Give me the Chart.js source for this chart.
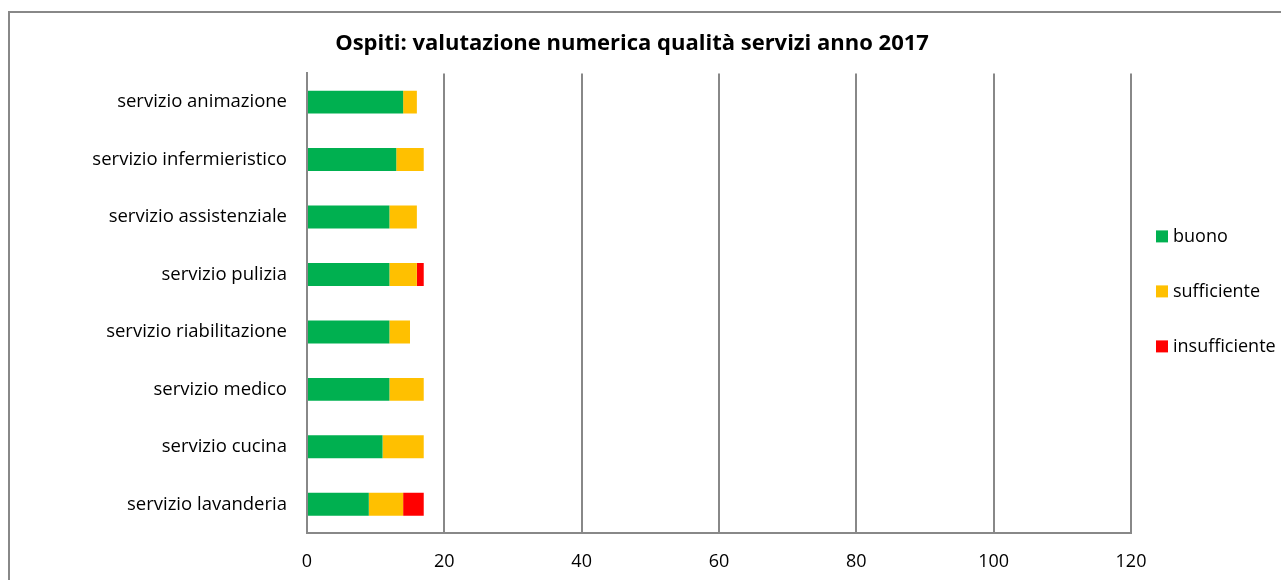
<!DOCTYPE html>
<html>
<head>
<meta charset="utf-8">
<script src="https://cdn.jsdelivr.net/npm/chart.js@4/dist/chart.umd.min.js"></script>
<style>
  html, body { margin: 0; padding: 0; background: #fff; overflow: hidden; }
  .frame { position: absolute; left: 8px; top: 11px; width: 1290px; height: 600px; border: 2px solid #888; }
  .wrap { position: absolute; left: 10px; top: 14px; width: 1271px; height: 566px; }
</style>
</head>
<body>
<div class="frame"></div>
<div class="wrap"><canvas id="myChart"></canvas></div>
<script>
const categories = [
  'servizio animazione',
  'servizio infermieristico',
  'servizio assistenziale',
  'servizio pulizia',
  'servizio riabilitazione',
  'servizio medico',
  'servizio cucina',
  'servizio lavanderia'
];
const buono = [14, 13, 12, 12, 12, 12, 11, 9];
const sufficiente = [2, 4, 4, 4, 3, 5, 6, 5];
const insufficiente = [0, 0, 0, 1, 0, 0, 0, 3];
const xTicks = [0, 20, 40, 60, 80, 100, 120];

const FONT = '"Open Sans", sans-serif';
const gridColor = '#888888';

// legend as its own layout box on the right, so the title stays centred on the whole chart
const sideLegend = {
  id: 'sideLegend',
  start(chart) {
    const box = {
      position: 'right',
      weight: 0,
      fullSize: false,
      options: {},
      update(maxWidth, maxHeight) {
        this.width = 123;
        this.height = maxHeight;
      },
      isHorizontal() { return false; },
      draw() {
        const ctx = chart.ctx;
        const area = chart.chartArea;
        ctx.save();
        ctx.font = '18px ' + FONT;
        ctx.textBaseline = 'middle';
        ctx.textAlign = 'left';
        chart.data.datasets.forEach((ds, i) => {
          const y = area.top + 163 + i * 55;
          const x = this.left + 25;
          ctx.fillStyle = ds.backgroundColor;
          ctx.fillRect(x, y - 6, 12, 12);
          ctx.fillStyle = '#000';
          ctx.fillText(ds.label, x + 17, y);
        });
        ctx.restore();
      }
    };
    Chart.layouts.addBox(chart, box);
  }
};

const data = {
  labels: categories,
  datasets: [{
    label: 'buono',
    backgroundColor: '#00B050',
    data: buono,
    categoryPercentage: 1,
    barPercentage: 0.4
  }, {
    label: 'sufficiente',
    backgroundColor: '#FFC000',
    data: sufficiente,
    categoryPercentage: 1,
    barPercentage: 0.4
  }, {
    label: 'insufficiente',
    backgroundColor: '#FF0000',
    data: insufficiente,
    categoryPercentage: 1,
    barPercentage: 0.4
  }]
};

const config = {
  type: 'bar',
  data: data,
  plugins: [sideLegend],
  options: {
    indexAxis: 'y',
    responsive: true,
    maintainAspectRatio: false,
    animation: false,
    layout: {
      padding: { left: 0, right: 27, top: 0, bottom: 0 }
    },
    scales: {
      x: {
        stacked: true,
        min: 0,
        max: 120,
        afterBuildTicks: (scale) => { scale.ticks = xTicks.map(v => ({ value: v })); },
        afterFit: (scale) => { scale.height = 47; },
        grid: {
          color: gridColor,
          lineWidth: 2,
          drawTicks: false
        },
        border: { display: true, color: gridColor, width: 2 },
        ticks: {
          color: '#000',
          padding: 18,
          font: { family: FONT, size: 18 }
        }
      },
      y: {
        stacked: true,
        afterFit: (scale) => { scale.width = 297; },
        grid: { display: false, drawTicks: false },
        border: { display: true, color: gridColor, width: 2 },
        ticks: {
          color: '#000',
          padding: 20,
          font: { family: FONT, size: 18.5 }
        }
      }
    },
    plugins: {
      legend: { display: false },
      tooltip: { enabled: false },
      title: {
        display: true,
        text: 'Ospiti: valutazione numerica qualità servizi anno 2017',
        color: '#000',
        font: { family: FONT, size: 22, weight: 'bold' },
        padding: { top: 17, bottom: 16 }
      }
    }
  }
};

const myChart = new Chart(document.getElementById('myChart'), config);
</script>
</body>
</html>
